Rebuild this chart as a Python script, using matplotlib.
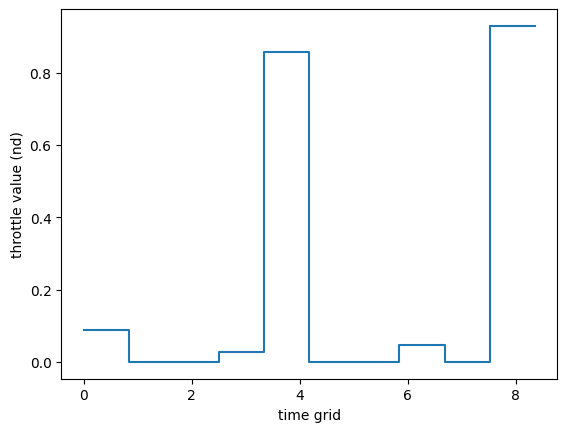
import numpy as np
from matplotlib import pyplot as plt

# time grid nodes and throttle value on each interval
time_grid = [0.0, 0.835, 1.67, 2.505, 3.34, 4.175, 5.01, 5.845, 6.68, 7.515, 8.35]
throttle = [0.088, 0.0, 0.0, 0.028, 0.857, 0.0, 0.0, 0.047, 0.0, 0.929]

fig, ax = plt.subplots(figsize=(6.4, 4.8), dpi=100)
# repeat the last value so the final step is drawn to the end of the grid
ax.step(time_grid, throttle + [throttle[-1]], where='post')
ax.set_xlabel('time grid')
ax.set_ylabel('throttle value (nd)')
fig.savefig('out.png', bbox_inches='tight')
